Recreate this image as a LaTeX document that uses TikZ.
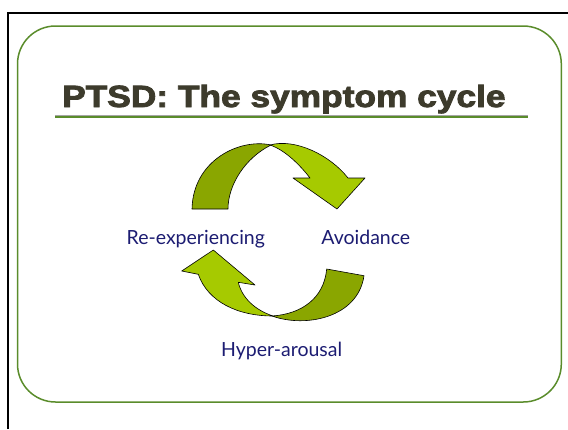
\documentclass[tikz,border=0pt]{standalone}
\usepackage{fontspec}
\usepackage{tikz}
\usetikzlibrary{positioning}
\usepackage{xcolor}
\setmainfont{Lato}
\newfontfamily\titlefont{Liberation Sans}[BoldFeatures={FakeBold=2.6}]
\definecolor{framegreen}{HTML}{5A8C2B}
\definecolor{titlegray}{HTML}{3D3B2C}
\definecolor{labelblue}{HTML}{1C1C72}
\definecolor{ribbondark}{HTML}{8AA600}
\definecolor{ribbonlight}{HTML}{A6CA00}
\tikzstyle{frame} = [draw=framegreen, line width=1.5pt, rounded corners=38pt]
\tikzstyle{heading} = [anchor=base west, inner sep=0pt, text=titlegray,
    font=\titlefont\bfseries\fontsize{30.7}{34}\selectfont]
\tikzstyle{stage} = [anchor=base, inner sep=0pt, text=labelblue,
    font=\fontsize{19.5}{22}\selectfont]
\tikzstyle{darkpart} = [fill=ribbondark, draw=black, line width=0.6pt, line join=round]
\tikzstyle{lightpart} = [fill=ribbonlight, draw=black, line width=0.6pt, line join=round]

\begin{document}
\begin{tikzpicture}[x=1pt,y=-1pt]
\useasboundingbox (0,0) rectangle (568,429);
% --- slide edge and rounded frame ---
\draw[line width=2pt] (8.3,429) -- (8.3,13.3) -- (568,13.3);
\draw[frame] (17.5,26) rectangle (561.3,402);

% --- heading with its rule ---
\node (heading) [heading] at (62,107) {\scalebox{1.15}[1]{PTSD: The symptom cycle}};
\coordinate (ruleL) at (55,117);
\coordinate (ruleR) at (528,117);
\draw[gray!70, line width=1.2pt] ([yshift=1.6pt]ruleL) -- ([yshift=1.6pt]ruleR);
\draw[framegreen, line width=2pt] (ruleL) -- (ruleR);

% --- upper ribbon arrow ---
\draw[darkpart] (192,209) -- (228,209)
    .. controls (228,185) and (245,158) .. (271,145)
    .. controls (240,138) and (193,160) .. cycle;
\draw[lightpart] (270,145)
    .. controls (295,138) and (330,155) .. (348,178)
    -- (365,178) -- (337,209) -- (293,178) -- (310,178)
    .. controls (300,165) and (285,150) .. cycle;

% --- lower ribbon arrow ---
\draw[darkpart] (272,316)
    .. controls (305,328) and (358,318) .. (364,275.7)
    -- (326.7,269)
    .. controls (324,298) and (302,314) .. cycle;
\draw[lightpart] (213.3,250) -- (255,285) -- (238.3,282.3)
    .. controls (242,298) and (255,310) .. (273,316)
    .. controls (238,316) and (208,302) .. (198.3,274.3)
    -- (181.7,271) -- cycle;

% --- stages of the cycle ---
\node (reexp) [stage] at (195.8,244) {Re-experiencing};
\node (avoid) [stage] at (365.8,244) {Avoidance};
\node (arousal) [stage] at (281.7,356) {Hyper-arousal};
\end{tikzpicture}
\end{document}
